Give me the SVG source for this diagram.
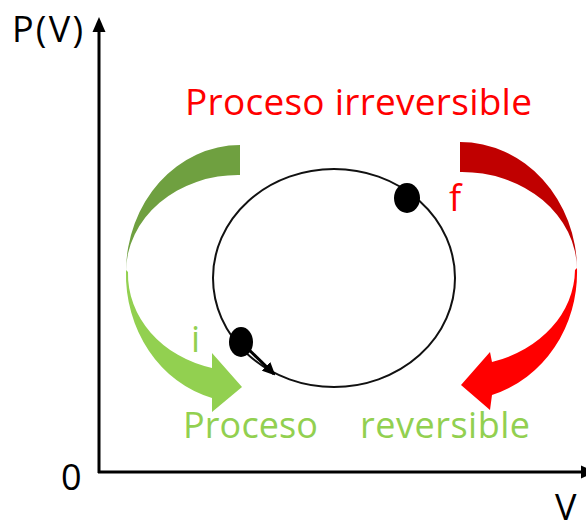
<svg xmlns="http://www.w3.org/2000/svg" width="586" height="530" viewBox="0 0 586 530">
<style>
text{font-family:"Open Sans","Liberation Sans",sans-serif;}
.axis{stroke:#000;stroke-width:3;fill:none;}
.lbl{font-size:36px;fill:#000;}
.red{fill:#ff0000;}
.green{fill:#92d050;}
</style>
<defs>
<marker id="ah" markerWidth="13" markerHeight="12" refX="11" refY="6" orient="auto" markerUnits="userSpaceOnUse" viewBox="0 0 13 12">
<path d="M0,0 L13,6 L0,12 Z" fill="#000"/>
</marker>
</defs>
<rect width="586" height="530" fill="#fff"/>
<g id="axes">
<line class="axis" x1="99" y1="473" x2="99" y2="30"/>
<polygon points="99,17 92.5,32 105.5,32" fill="#000"/>
<line class="axis" x1="98" y1="472" x2="584" y2="472"/>
<polygon points="596,472 581,465.5 581,478.5" fill="#000"/>
<text class="lbl" x="12" y="42" textLength="71">P(V)</text>
<text class="lbl" x="61" y="490">0</text>
<text class="lbl" x="555" y="520" font-size="33">V</text>
</g>
<g id="cycle">
<ellipse cx="334" cy="278" rx="121" ry="109" fill="none" stroke="#111" stroke-width="2"/>
</g>
<g id="connectors">
<line x1="241" y1="342" x2="274" y2="374" stroke="#000" stroke-width="3" marker-end="url(#ah)"/>
</g>
<g id="state-f">
<ellipse cx="407" cy="198" rx="13" ry="15" fill="#000"/>
<text class="red" x="449" y="211" font-size="36">f</text>
</g>
<g id="state-i">
<ellipse cx="241" cy="342" rx="12" ry="15" fill="#000"/>
<text class="green" x="191" y="352" font-size="36">i</text>
</g>
<g id="arrow-reversible">
<path d="M240,145 A114,127 0 0 0 126,272 A112,97 0 0 1 240,175 Z" fill="#6fa040"/>
<path d="M126,270 A115,128 0 0 0 212,398 L212,412 L242,387 L212,353 L212,368 A112,97 0 0 1 128,272 Z" fill="#92d050"/>
</g>
<g id="arrow-irreversible">
<path d="M460,142 A117,128 0 0 1 577,270 A115,98 0 0 0 460,172 Z" fill="#c00000"/>
<path d="M577,268 A118,128 0 0 1 492,395 L490,410 L461,385 L490,352 L492,362 A115,97 0 0 0 575,270 Z" fill="#ff0000"/>
</g>
<g id="labels">
<text class="red" x="185" y="115" font-size="37" textLength="347">Proceso irreversible</text>
<text class="green" x="183" y="438" font-size="36" textLength="135">Proceso</text>
<text class="green" x="360" y="438" font-size="36" textLength="170">reversible</text>
</g>
</svg>
